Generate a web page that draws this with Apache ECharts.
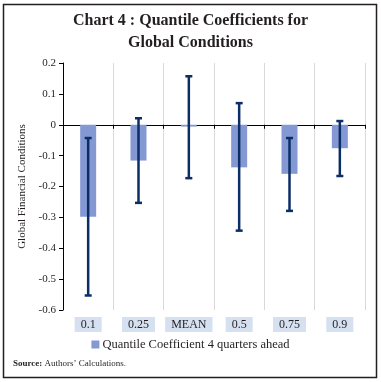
<!DOCTYPE html>
<html><head><meta charset="utf-8">
<script src="https://cdn.jsdelivr.net/npm/echarts@6/dist/echarts.min.js"></script>
<style>html,body{margin:0;padding:0;background:#fff}#c{width:381px;height:382px}</style>
</head><body><div id="c"></div>
<script>
var categories = ['0.1', '0.25', 'MEAN', '0.5', '0.75', '0.9'];
var coefficients = [-0.298, -0.116, -0.006, -0.138, -0.159, -0.076];
var errLow = [-0.553, -0.253, -0.173, -0.343, -0.279, -0.166];
var errHigh = [-0.043, 0.021, 0.157, 0.070, -0.043, 0.012];
var yTicks = [-0.6, 0.2, 0.1];

var serif = 'Liberation Serif, DejaVu Serif, serif';
var chart = echarts.init(document.getElementById('c'));
chart.setOption({
  animation: false,
  backgroundColor: '#fff',
  title: {
    text: 'Chart 4 : Quantile Coefficients for\nGlobal Conditions',
    left: 'center', top: 5,
    textStyle: {fontFamily: serif, fontSize: 16, fontWeight: 'bold', color: '#231f20', lineHeight: 22}
  },
  grid: {left: 63, right: 16, top: 63, bottom: 72, containLabel: false, outerBoundsMode: 'none'},
  legend: {
    bottom: 26, left: 'center',
    itemWidth: 8, itemHeight: 8, itemGap: 4,
    icon: 'rect',
    data: ['Quantile Coefficient 4 quarters ahead'],
    textStyle: {fontFamily: serif, fontSize: 12.5, color: '#231f20', padding: [0,0,0,-2]}
  },
  xAxis: [{
    type: 'category', data: categories,
    axisLine: {onZero: true, lineStyle: {color: '#000', width: 1}},
    axisTick: {show: true, length: 4, lineStyle: {color: '#000'}},
    splitLine: {show: true, lineStyle: {color: '#d9d9d9', width: 1}},
    axisLabel: {show: false}
  }, {
    type: 'category', data: categories, position: 'bottom',
    axisLine: {show: false, onZero: false},
    axisTick: {show: false},
    splitLine: {show: false},
    axisLabel: {
      margin: 7,
      fontFamily: serif, fontSize: 12, color: '#231f20',
      backgroundColor: '#d5e0f1', padding: [2, 6, 1, 6]
    }
  }],
  yAxis: {
    type: 'value', min: yTicks[0], max: yTicks[1], interval: yTicks[2],
    name: 'Global Financial Conditions', nameLocation: 'middle', nameGap: 33,
    nameTextStyle: {fontFamily: serif, fontSize: 11, color: '#231f20'},
    axisLine: {show: true, lineStyle: {color: '#000'}},
    axisTick: {show: true, length: 4, lineStyle: {color: '#000'}},
    splitLine: {show: false},
    axisLabel: {
      fontFamily: serif, fontSize: 11, color: '#231f20', margin: 7,
      formatter: function (v) { return Math.abs(v) < 1e-9 ? '0' : v.toFixed(1); }
    }
  },
  series: [{
    name: 'Quantile Coefficient 4 quarters ahead',
    type: 'bar', data: coefficients, barWidth: 16,
    itemStyle: {color: '#8499d3'}
  }, {
    type: 'custom',
    data: categories.map(function (c, i) { return [i, errLow[i], errHigh[i]]; }),
    renderItem: function (params, api) {
      var lo = api.coord([api.value(0), api.value(1)]);
      var hi = api.coord([api.value(0), api.value(2)]);
      var w = 3.5;
      var st = {stroke: '#0b2e66', lineWidth: 2.5};
      return {type: 'group', children: [
        {type: 'line', shape: {x1: lo[0], y1: lo[1], x2: hi[0], y2: hi[1]}, style: st},
        {type: 'line', shape: {x1: lo[0]-w, y1: lo[1], x2: lo[0]+w, y2: lo[1]}, style: st},
        {type: 'line', shape: {x1: hi[0]-w, y1: hi[1], x2: hi[0]+w, y2: hi[1]}, style: st}
      ]};
    },
    z: 5
  }],
  graphic: [
    {type: 'rect', shape: {x: 3.5, y: 4.5, width: 373, height: 373}, style: {fill: 'none', stroke: '#231f20', lineWidth: 1.5}, silent: true},
    {type: 'text', left: 13, top: 359, style: {
      text: '{b|Source:} Authors\u2019 Calculations.',
      rich: {b: {fontWeight: 'bold', fontFamily: serif, fontSize: 9, fill: '#231f20'}},
      fontFamily: serif, fontSize: 9, fill: '#231f20'
    }}
  ]
});
</script>
</body></html>
